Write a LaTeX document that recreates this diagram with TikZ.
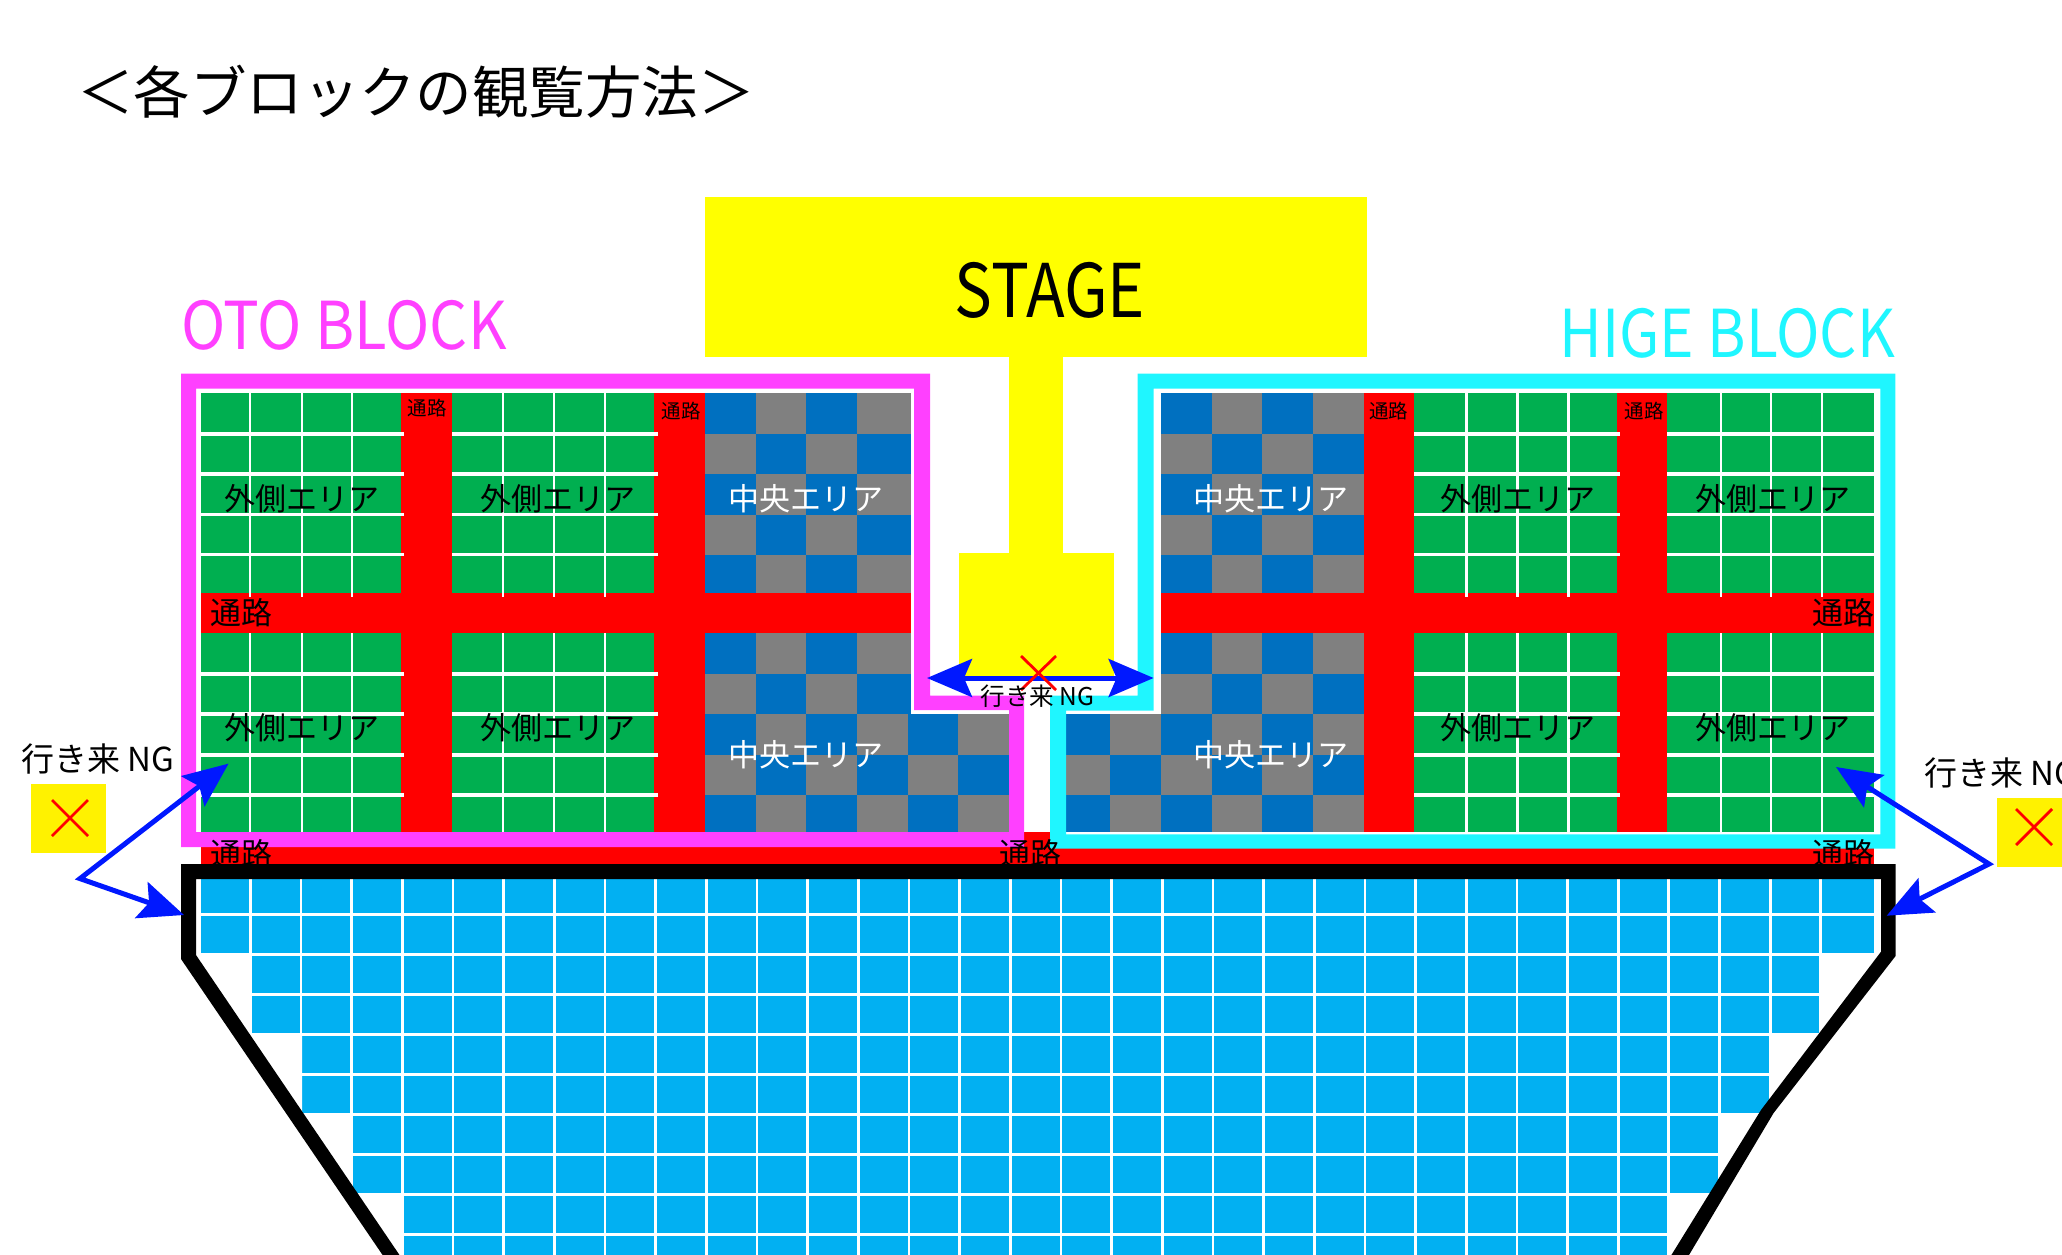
\documentclass[tikz,border=0pt]{standalone}
\usepackage{graphicx}
\usepackage{fontspec}
\setmainfont{Noto Sans CJK JP}
\usetikzlibrary{arrows.meta}
\definecolor{stageyellow}{HTML}{FFFF00}
\definecolor{seatgreen}{HTML}{00AF50}
\definecolor{seatblue}{HTML}{0070C0}
\definecolor{seatgrey}{HTML}{808080}
\definecolor{seatsky}{HTML}{02B0F2}
\definecolor{otopink}{HTML}{FF40FF}
\definecolor{higecyan}{HTML}{1FF6FF}
\definecolor{arrowblue}{HTML}{0018FF}
\definecolor{ngyellow}{HTML}{FFF200}
\newcommand{\fsz}[1]{\fontsize{#1}{#1}\selectfont}
\tikzset{
  lbl/.style={inner sep=0pt,outer sep=0pt,text=black},
  areaout/.style={lbl,font=\fsz{31}},
  areain/.style={lbl,text=white,font=\fsz{31}},
  pathbig/.style={lbl,font=\fsz{31}},
  pathsmall/.style={lbl,font=\fsz{19.5}},
  gridh/.style={draw=white,line width=3.4pt},
  gridv/.style={draw=white,line width=2.8pt},
  noway/.style={draw=red,line width=2.8pt},
  ngarrow/.style={draw=arrowblue,line width=5pt,miter limit=10,
    {Stealth[length=45pt,width=38pt,inset=8pt]}-{Stealth[length=45pt,width=38pt,inset=8pt]}},
}
\begin{document}
\begin{tikzpicture}[x=1pt,y=-1pt]
\useasboundingbox (0,0) rectangle (2062,1255);
\clip (0,0) rectangle (2062,1255);
% stage
\fill[stageyellow] (705,197) rectangle (1367,357);
\fill[stageyellow] (1009,357) rectangle (1063,553);
\fill[stageyellow] (959,553) rectangle (1114,678);
% green seating
\foreach \xa/\xb in {201/401,452/654,1414/1617,1667.4/1874}
  \foreach \ya/\yb in {393/593,633/832}
    \fill[seatgreen] (\xa,\ya) rectangle (\xb,\yb);
% checker seating
\foreach \ya/\yb/\s in {393/434/0,434/474/1,474/514.6/0,514.6/554.6/1,554.6/593/0,633/674/0,674/714/1}{
  \foreach \xa/\xb/\c in {705/756/0,756/806/1,806/857/2,857/911/3}{
    \pgfmathtruncatemacro{\p}{mod(\s+\c,2)}
    \ifnum\p=0 \fill[seatblue] (\xa,\ya) rectangle (\xb,\yb);
    \else \fill[seatgrey] (\xa,\ya) rectangle (\xb,\yb); \fi}
  \foreach \xa/\xb/\c in {1161/1212/0,1212/1262/1,1262/1313/2,1313/1364/3}{
    \pgfmathtruncatemacro{\p}{mod(\s+\c,2)}
    \ifnum\p=0 \fill[seatblue] (\xa,\ya) rectangle (\xb,\yb);
    \else \fill[seatgrey] (\xa,\ya) rectangle (\xb,\yb); \fi}
}
\foreach \ya/\yb/\s in {714/755/0,755/795/1,795/832/0}{
  \foreach \xa/\xb/\c in {705/756/0,756/806/1,806/857/2,857/908/3,908/958/4,958/1009/5}{
    \pgfmathtruncatemacro{\p}{mod(\s+\c,2)}
    \ifnum\p=0 \fill[seatblue] (\xa,\ya) rectangle (\xb,\yb);
    \else \fill[seatgrey] (\xa,\ya) rectangle (\xb,\yb); \fi}
  \foreach \xa/\xb/\c in {1066/1110/0,1110/1161/1,1161/1212/2,1212/1262/3,1262/1313/4,1313/1364/5}{
    \pgfmathtruncatemacro{\p}{mod(\s+\c,2)}
    \ifnum\p=0 \fill[seatblue] (\xa,\ya) rectangle (\xb,\yb);
    \else \fill[seatgrey] (\xa,\ya) rectangle (\xb,\yb); \fi}
}
% red aisles
\fill[red] (201,593) rectangle (911,633);
\fill[red] (1161,593) rectangle (1874,633);
\foreach \xa/\xb in {401/452,654/705,1364/1414,1617/1667.4}
  \fill[red] (\xa,393) rectangle (\xb,832);
\fill[red] (201,846) rectangle (1874,866);
\fill[red] (1024,832) rectangle (1050,850);
% grid of green
\foreach \xa/\xb in {201/404,452/658,1414/1620,1667.4/1874}
  \foreach \yy in {434,474,514.6,554.6,674,714,755,795}
    \draw[gridh] (\xa,\yy) -- (\xb,\yy);
\foreach \xx in {250,302,352,503,554,605,1466.7,1517.6,1568.4,1721,1771,1822}{
  \draw[gridv] (\xx,393) -- (\xx,597);
  \draw[gridv] (\xx,633) -- (\xx,832);
}
% block outlines
\fill[otopink,even odd rule]
  (181,373.6) -- (930,373.6) -- (930,695.7) -- (1024,695.7) -- (1024,847) -- (181,847) -- cycle
  (196,388.6) -- (914,388.6) -- (914,710) -- (1009,710) -- (1009,832) -- (196,832) -- cycle;
\fill[higecyan,even odd rule]
  (1137.5,373.6) -- (1895.4,373.6) -- (1895.4,848.6) -- (1050,848.6) -- (1050,695.7) -- (1137.5,695.7) -- cycle
  (1153.6,388.6) -- (1880.4,388.6) -- (1880.4,834.3) -- (1066,834.3) -- (1066,710.7) -- (1153.6,710.7) -- cycle;
% sky seating
\foreach \ya/\yb/\xa/\xb in {879/954.7/201/1874,954.7/1034.7/250.4/1821,1034.7/1114.7/302/1771,1114.7/1194.7/352.7/1719,1194.7/1255/403.4/1668}
  \fill[seatsky] (\xa,\ya) rectangle (\xb,\yb);
\foreach \yy in {914.7,954.7,994.7,1034.7,1074.7,1114.7,1154.7,1194.7,1234.7}
  \draw[gridh] (195,\yy) -- (1880,\yy);
\foreach \k in {1,...,32}{
  \pgfmathsetmacro{\xx}{250.4+50.66*(\k-1)}
  \draw[gridv] (\xx,879) -- (\xx,1255);
}
% cover stair corners
\fill[white] (197,954.7) -- (250.4,954.7) -- (250.4,1034.7) -- (302,1034.7) -- (302,1114.7) -- (352.7,1114.7) -- (352.7,1194.7) -- (403.4,1194.7) -- (403.4,1255) -- (190,1255) -- cycle;
\fill[white] (1885,954.7) -- (1821,954.7) -- (1821,1034.7) -- (1771,1034.7) -- (1771,1114.7) -- (1719,1114.7) -- (1719,1194.7) -- (1668,1194.7) -- (1668,1255) -- (1890,1255) -- cycle;
\fill[white] (1874,879) rectangle (1881,954.7);
% bottom aisle labels
\node[pathbig] (aisleBL) at (241,854) {通路};
\node[pathbig] (aisleBM) at (1030.5,854) {通路};
\node[pathbig] (aisleBR) at (1843,854) {通路};
% audience outline
\fill[black,even odd rule]
  (181,864) -- (1895.6,864) -- (1895.6,956) -- (1773.6,1113) -- (1689,1255) -- (1671.4,1255) -- (1761,1110) -- (1881,951.7) -- (1881,879) -- (196,879) -- (196,955) -- (399.5,1255) -- (382.6,1255) -- (181,959) -- cycle;
% labels
\node[lbl,anchor=west,font=\fsz{56.5}] (title) at (77,92) {＜各ブロックの観覧方法＞};
\node[lbl,font=\fsz{74}] (stage) at (1050,290) {\scalebox{.857}[1]{STAGE}};
\node[lbl,anchor=west,text=otopink,font=\fsz{66}] (oto) at (181,325) {\scalebox{.905}[1]{OTO BLOCK}};
\node[lbl,anchor=east,text=higecyan,font=\fsz{66}] (hige) at (1895,333.5) {\scalebox{.888}[1]{HIGE BLOCK}};
\foreach \nm/\xx/\yy in {a/302/498.5,b/557.5/498.5,c/302/728,d/557.5/728,e/1518/498.5,f/1772.5/498.5,g/1518/728,h/1772.5/728}
  \node[areaout] (out\nm) at (\xx,\yy) {外側エリア};
\foreach \nm/\xx/\yy in {a/806/498.5,b/806/755,c/1271/498.5,d/1271/755}
  \node[areain] (in\nm) at (\xx,\yy) {中央エリア};
\node[pathbig] (aisleL) at (241,613) {通路};
\node[pathbig] (aisleR) at (1843,613) {通路};
\foreach \nm/\xx/\yy in {a/427/408,b/681/411,c/1388.5/411,d/1644/411}
  \node[pathsmall] (sm\nm) at (\xx,\yy) {通路};
% NG markers
\node[fill=ngyellow,minimum width=75pt,minimum height=69pt,inner sep=0pt] (boxL) at (68.5,818.5) {};
\node[fill=ngyellow,minimum width=75pt,minimum height=69pt,inner sep=0pt] (boxR) at (2034.5,832.5) {};
\draw[noway] (52,800) -- (88,836) (88,800) -- (52,836);
\draw[noway] (2016,809) -- (2052,845) (2052,809) -- (2016,845);
\node[lbl,anchor=west,font=\fsz{33}] (ngL) at (21,759) {行き来 NG};
\node[lbl,anchor=west,font=\fsz{33}] (ngR) at (1924,773) {行き来 NG};
% arrows
\coordinate (cl) at (927,678); \coordinate (cr) at (1153.6,678);
\coordinate (lap) at (80,878.6); \coordinate (lu) at (228.6,763.6); \coordinate (ld) at (184,915);
\coordinate (rap) at (1989,864); \coordinate (ru) at (1836,767); \coordinate (rd) at (1886.7,915.7);
\draw[ngarrow] (cl) -- (cr);
\draw[ngarrow] (lu) -- (lap) -- (ld);
\draw[ngarrow] (ru) -- (rap) -- (rd);
\draw[noway] (1021,656) -- (1056,690) (1056,656) -- (1021,690);
\node[lbl,font=\fsz{24.5}] (ngC) at (1037.5,696) {行き来 NG};
\end{tikzpicture}
\end{document}
